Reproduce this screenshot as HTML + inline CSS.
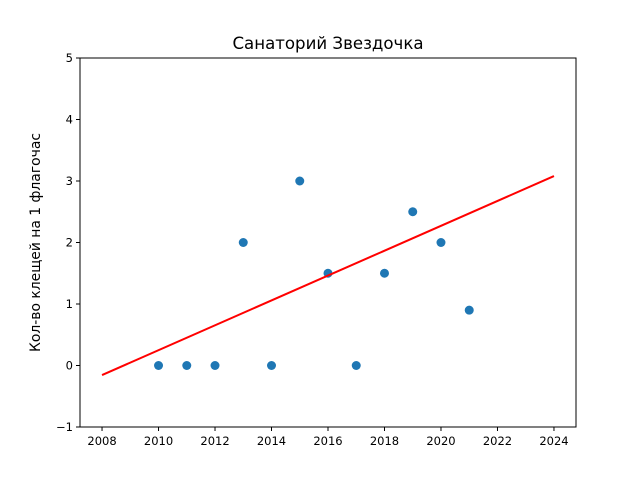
<!DOCTYPE html>
<html><head><meta charset="utf-8"><style>
body{margin:0;background:#fff;}
svg text{font-family:"DejaVu Sans","Liberation Sans",sans-serif;}
</style></head><body>
<svg id="chart" width="640" height="480" xmlns="http://www.w3.org/2000/svg">
<rect width="640" height="480" fill="#fff"/>
<text x="328" y="49" font-size="16.6" text-anchor="middle">Санаторий Звездочка</text>
<text transform="translate(40,242.5) rotate(-90)" font-size="13.9" text-anchor="middle">Кол-во клещей на 1 флагочас</text>
<g id="marks"></g>
<rect x="80" y="58" width="496" height="369" fill="none" stroke="#000" stroke-width="1"/>
<g id="ticks"></g>
</svg>
<script>
const years = [2010,2011,2012,2013,2014,2015,2016,2017,2018,2019,2020,2021];
const counts = [0,0,0,2,0,3,1.5,0,1.5,2.5,2,0.9];
const trendX = [2008,2024];
const trendY = [-0.155,3.08];
const xTicks = [2008,2010,2012,2014,2016,2018,2020,2022,2024];
const yTicks = [-1,0,1,2,3,4,5];

const X0=80,X1=576,Y0=427,Y1=58,xMin=2007.22,xMax=2024.78,yMin=-1,yMax=5;
function sx(v){return X0+(v-xMin)/(xMax-xMin)*(X1-X0);}
function sy(v){return Y0-(v-yMin)/(yMax-yMin)*(Y0-Y1);}
const NS="http://www.w3.org/2000/svg";
const marks=document.getElementById('marks'), ticks=document.getElementById('ticks');
years.forEach((y,i)=>{
  const c=document.createElementNS(NS,'circle');
  c.setAttribute('cx',sx(y));c.setAttribute('cy',sy(counts[i]));c.setAttribute('r',4.5);c.setAttribute('fill','#1f77b4');
  
  
  marks.appendChild(c);
});
const l=document.createElementNS(NS,'line');
l.setAttribute('x1',sx(trendX[0]));l.setAttribute('y1',sy(trendY[0]));
l.setAttribute('x2',sx(trendX[1]));l.setAttribute('y2',sy(trendY[1]));
l.setAttribute('stroke','#ff0000');l.setAttribute('stroke-width',2);


marks.appendChild(l);
xTicks.forEach(t=>{
  const x=sx(t);
  const tl=document.createElementNS(NS,'line');
  tl.setAttribute('x1',x);tl.setAttribute('x2',x);tl.setAttribute('y1',Y0);tl.setAttribute('y2',Y0+4);tl.setAttribute('stroke','#000');
  
  
  ticks.appendChild(tl);
  const tx=document.createElementNS(NS,'text');
  tx.setAttribute('x',x);tx.setAttribute('y',Y0+18);tx.setAttribute('font-size','11.5');tx.setAttribute('text-anchor','middle');
  tx.textContent=t;
  
  
  ticks.appendChild(tx);
});
yTicks.forEach(t=>{
  const y=sy(t);
  const tl=document.createElementNS(NS,'line');
  tl.setAttribute('x1',X0-4);tl.setAttribute('x2',X0);tl.setAttribute('y1',y);tl.setAttribute('y2',y);tl.setAttribute('stroke','#000');
  
  
  ticks.appendChild(tl);
  const tx=document.createElementNS(NS,'text');
  tx.setAttribute('x',X0-7);tx.setAttribute('y',y+4);tx.setAttribute('font-size','11.5');tx.setAttribute('text-anchor','end');
  tx.textContent=t<0?'\u2212'+Math.abs(t):t;
  
  
  ticks.appendChild(tx);
});
</script>
</body></html>
